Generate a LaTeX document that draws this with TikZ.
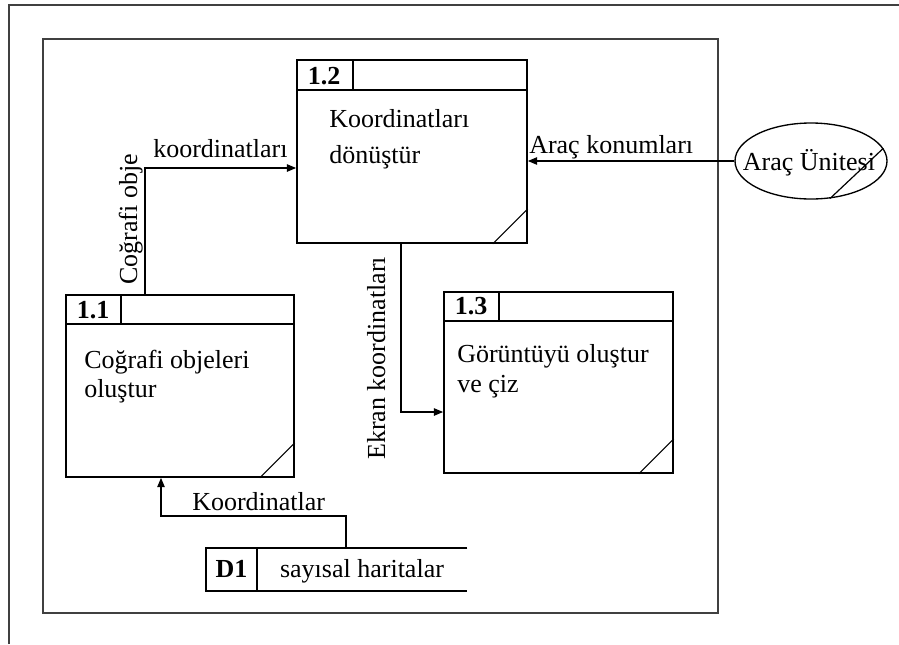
\documentclass[tikz,border=0pt]{standalone}
\usepackage{fontspec}
\setmainfont{Liberation Serif}
\usetikzlibrary{arrows.meta,shapes.geometric,fit,calc}
\begin{document}
\begin{tikzpicture}[x=0.75pt,y=-0.75pt,
  frame/.style={line width=1.6pt, draw=black!75},
  proc/.style={draw, line width=1.2pt, rectangle, inner sep=0pt},
  part/.style={line width=1.2pt},
  thin/.style={line width=0.9pt},
  flow/.style={line width=1.2pt, -{Triangle[length=7pt,width=5.5pt]}},
  txt/.style={font=\fontsize{19.5}{26}\selectfont, inner sep=0pt, anchor=base west},
  num/.style={font=\fontsize{19.5}{26}\selectfont\bfseries, inner sep=0pt, anchor=base},
  ctr/.style={font=\fontsize{19.5}{26}\selectfont, inner sep=0pt, anchor=base},
]
\useasboundingbox (0,0) rectangle (899,644);
% frames
\draw[frame] (9,644) -- (9,5) -- (899,5);
\draw[frame] (43,39) rectangle (718,613);

% process 1.2
\node[proc, fit={(297,60) (527,243)}] (p12) {};
\draw[part] ($(p12.north west)+(0,31)$) -- ($(p12.north east)+(0,31)$);
\draw[part] ($(p12.north west)+(57,0)$) -- ($(p12.north west)+(57,31)$);
\draw[thin] ($(p12.south east)+(-35,0)$) -- ($(p12.south east)+(0,-35)$);
\node[num] (n12) at ($(p12.north west)+(28,25)$) {1.2};
\node[txt] (t12a) at (329,127) {Koordinatları};
\node[txt] (t12b) at (329,163) {dönüştür};

% process 1.1
\node[proc, fit={(66,295) (294,477)}] (p11) {};
\draw[part] ($(p11.north west)+(0,30)$) -- ($(p11.north east)+(0,30)$);
\draw[part] ($(p11.north west)+(56,0)$) -- ($(p11.north west)+(56,30)$);
\draw[thin] ($(p11.south east)+(-35,0)$) -- ($(p11.south east)+(0,-35)$);
\node[num] (n11) at ($(p11.north west)+(28,24)$) {1.1};
\node[txt] (t11a) at (84,368) {Coğrafi objeleri};
\node[txt] (t11b) at (84,397) {oluştur};

% process 1.3
\node[proc, fit={(444,292) (673,473)}] (p13) {};
\draw[part] ($(p13.north west)+(0,30)$) -- ($(p13.north east)+(0,30)$);
\draw[part] ($(p13.north west)+(56,0)$) -- ($(p13.north west)+(56,30)$);
\draw[thin] ($(p13.south east)+(-35,0)$) -- ($(p13.south east)+(0,-35)$);
\node[num] (n13) at ($(p13.north west)+(28,23)$) {1.3};
\node[txt] (t13a) at (457,362) {Görüntüyü oluştur};
\node[txt] (t13b) at (457,392) {ve çiz};

% external entity
\node[draw, ellipse, line width=1.0pt, minimum width=114pt, minimum height=57pt, inner sep=0pt] (ell) at (811,161) {};
\node[ctr] (tell) at (809,170) {Araç Ünitesi};
\draw[thin] (ell.-63) -- (ell.10);

% data store
\path (206,548) coordinate (d1nw) (467,591) coordinate (d1se);
\node[fit={(d1nw) (d1se)}, inner sep=0pt] (d1) {};
\draw[part] (d1.north east) -- (d1.north west) -- (d1.south west) -- (d1.south east);
\draw[part] ($(d1.north west)+(51,0)$) -- ($(d1.south west)+(51,0)$);
\node[num] (nd1) at (231.5,577) {D1};
\node[ctr] (td1) at (362,577) {sayısal haritalar};

% flows
\coordinate (c1) at (145,168);
\draw[flow] (p11.north -| c1) -- (c1) -- (p12.west |- c1);
\node[txt] (l1) at (153,157) {koordinatları};
\node[txt, rotate=90] (l2) at (137,285) {Coğrafi obje};

\draw[flow] (ell.west) -- (p12.east |- ell.west);
\node[txt] (l3) at (529,153) {Araç konumları};

\coordinate (c2) at (401,412);
\draw[flow] (p12.south -| c2) -- (c2) -- (p13.west |- c2);
\node[txt, rotate=90] (l4) at (385,460) {Ekran koordinatları};

\coordinate (c3) at (346,516);
\coordinate (c4) at (161,516);
\draw[flow] (d1.north -| c3) -- (c3) -- (c4) -- (p11.south -| c4);
\node[txt] (l5) at (192,510) {Koordinatlar};
\end{tikzpicture}
\end{document}
